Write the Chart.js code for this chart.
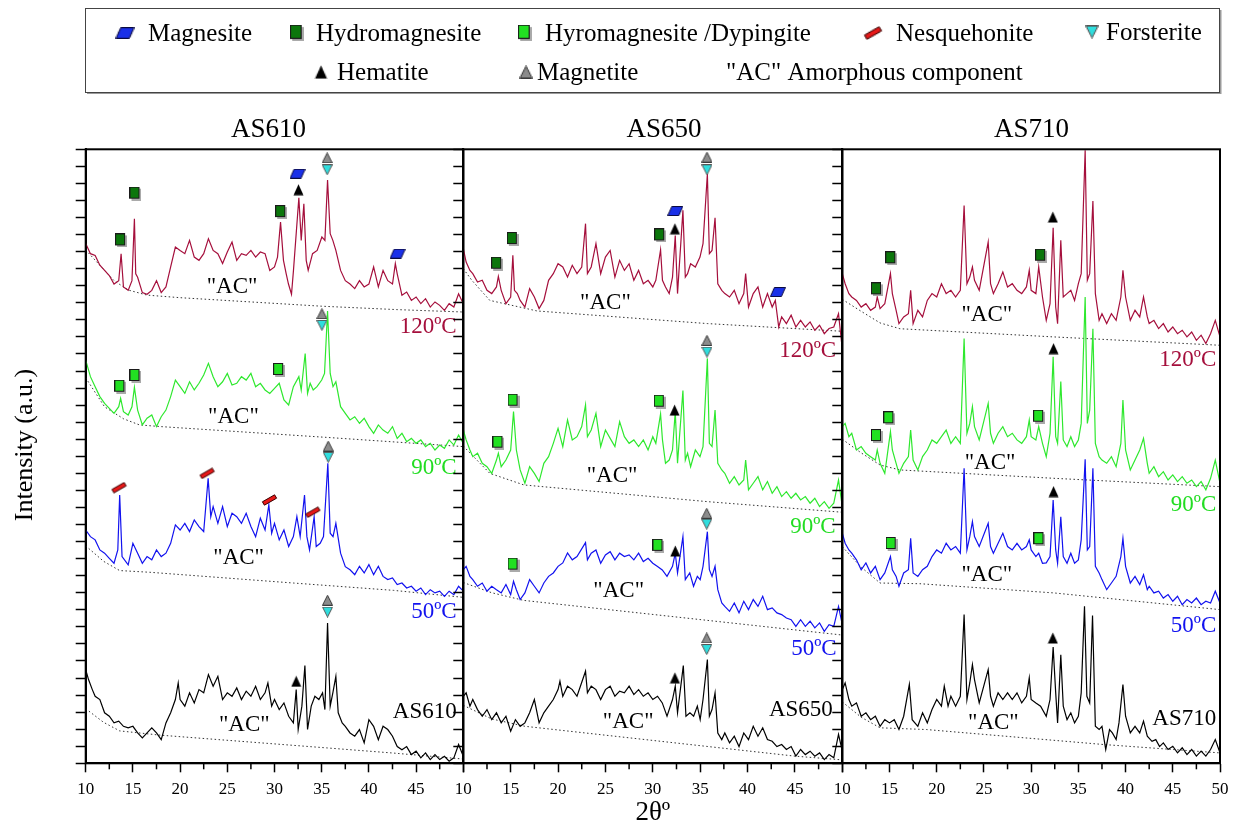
<!DOCTYPE html>
<html><head><meta charset="utf-8">
<script src="https://cdn.jsdelivr.net/npm/chart.js@4.4.1/dist/chart.umd.min.js"></script>
<style>
html,body{margin:0;padding:0;background:#fff;}
#wrap{position:relative;width:1233px;height:831px;overflow:hidden;}
#wrap canvas{position:absolute;left:0;top:0;}
</style></head><body>
<div id="wrap">
<canvas id="c0" width="1233" height="831"></canvas>
<canvas id="c1" width="1233" height="831"></canvas>
<canvas id="c2" width="1233" height="831"></canvas>
</div>
<script>
// ---------------- DATA (2θ, intensity a.u. incl. stacking offset) ----------------
const SAMPLES = ['AS610', 'AS650', 'AS710'];
const TEMPS = ['120ºC', '90ºC', '50ºC'];
const X_TICKS = [10, 15, 20, 25, 30, 35, 40, 45, 50];

const as610_120 = [[10,30.47],[10.5,29.88],[11,29.78],[11.5,29.2],[12,28.9],[12.5,28.6],[13,28.1],[13.5,28.3],[13.75,29.88],[14,27.93],[14.5,27.73],[14.9,28.3],[15.16,31.93],[15.3,28.7],[15.5,28.5],[16,27.6],[16.5,27.5],[17,27.73],[17.5,28.3],[18,27.6],[18.5,27.93],[19,29.1],[19.5,30.27],[20,30.07],[20.5,29.88],[21,30.66],[21.5,29.68],[22,29.49],[22.5,29.88],[23,30.76],[23.5,30.07],[24,29.88],[24.5,29.3],[25,29.98],[25.5,30.56],[26,29.49],[26.5,29.88],[27,29.78],[27.5,30.07],[28,29.68],[28.5,29.98],[29,29.88],[29.5,28.9],[30,29.1],[30.32,29.68],[30.64,31.73],[30.95,29.49],[31.24,28.7],[31.48,28.1],[31.8,27.5],[32.01,28.9],[32.58,33.16],[32.83,30.66],[33.11,32.8],[33.36,29.49],[33.57,28.9],[34.03,29.88],[34.52,30.07],[35.02,30.86],[35.34,30.66],[35.62,34.2],[35.9,31.05],[36.18,30.66],[36.5,30.07],[37,28.9],[37.5,28.3],[38,28.1],[38.5,27.83],[39,28.3],[39.5,27.93],[40,28.1],[40.5,29.1],[41,27.93],[41.5,28.9],[42,28.3],[42.5,28.1],[42.8,29.3],[43,28.7],[43.5,27.44],[44,27.63],[44.5,27.14],[45,27.34],[45.5,26.95],[46,27.24],[46.5,26.75],[47,27.05],[47.5,26.85],[48,26.56],[48.5,26.95],[49,26.75],[49.5,27.53],[50,26.95]];
const as610_90 = [[10,23.64],[10.5,22.67],[11,22.08],[11.5,21.5],[12,21.1],[12.5,20.81],[13,20.52],[13.5,20.91],[13.7,21.4],[14,20.62],[14.5,20.42],[14.9,20.9],[15.16,22.04],[15.5,20.71],[16,19.84],[16.5,20.23],[17,20.42],[17.5,19.74],[18,20.32],[18.5,20.71],[19,21.5],[19.5,22.47],[20,22.08],[20.5,21.69],[21,22.37],[21.5,21.89],[22,22.28],[22.5,22.77],[23,23.45],[23.5,22.67],[24,22.08],[24.5,22.37],[25,22.86],[25.5,22.18],[26,22.28],[26.5,22.67],[27,22.47],[27.5,22.86],[28,22.08],[28.5,22.28],[29,21.89],[29.5,21.69],[30,21.98],[30.5,22.28],[31,21.3],[31.5,21.01],[32,22.08],[32.58,22.67],[32.83,21.89],[33.25,24.03],[33.5,21.69],[33.78,22.28],[34.1,21.89],[34.5,22.08],[35,22.47],[35.3,22.86],[35.62,26.52],[35.9,22.86],[36.2,22.08],[36.5,22.37],[37,20.91],[37.5,20.52],[38,20.13],[38.5,20.32],[39,19.93],[39.5,20.23],[40,19.74],[40.5,19.35],[41,19.84],[41.5,19.54],[42,19.35],[42.5,19.74],[43,19.05],[43.5,19.35],[44,18.86],[44.5,19.05],[45,18.76],[45.5,18.96],[46,18.57],[46.5,18.76],[47,18.37],[47.5,18.66],[48,18.47],[48.5,18.96],[49,18.66],[49.5,19.25],[50,18.76]];
const as610_50 = [[10,13.68],[10.5,13.29],[11,13.1],[11.5,12.51],[12,12.32],[12.5,12.02],[13,11.73],[13.4,12.51],[13.6,15.73],[13.85,12.12],[14.5,11.63],[15,12.9],[15.5,12.32],[16,11.73],[16.5,12.12],[17,11.93],[17.5,12.51],[18,12.12],[18.5,12.32],[19,12.9],[19.5,13.98],[20,13.68],[20.5,14.07],[21,13.59],[21.5,14.27],[22,13.88],[22.5,13.59],[22.97,16.71],[23.25,14.46],[23.5,15.05],[24,14.07],[24.5,15.05],[25,13.88],[25.5,14.66],[26,14.46],[26.5,14.07],[27,14.66],[27.5,13.88],[28,13.29],[28.5,14.37],[29,13.68],[29.4,15.15],[29.7,13.49],[30,14.07],[30.5,13.1],[31,13.68],[31.5,12.71],[32,13.29],[32.37,14.46],[32.72,13.29],[33.18,15.73],[33.43,13.29],[33.71,12.51],[34.2,14.46],[34.42,12.71],[34.84,12.9],[35.19,13.29],[35.65,17.59],[35.9,13.49],[36.2,13.29],[36.5,14.07],[37,12.32],[37.5,11.53],[38,11.35],[38.5,11.06],[39,11.55],[39.5,11.16],[40,11.65],[40.5,11.06],[41,11.55],[41.5,10.96],[42,10.77],[42.5,10.87],[43,10.48],[43.5,10.57],[44,10.28],[44.5,10.38],[45,10.09],[45.5,10.28],[46,9.89],[46.5,10.18],[47,9.99],[47.5,10.09],[48,9.79],[48.5,10.09],[49,9.89],[49.5,10.38],[50,10.09]];
const as610_raw = [[10,5.49],[10.3,4.91],[10.7,4.32],[11,3.93],[11.5,3.74],[12,2.96],[12.5,2.76],[13,2.37],[13.5,2.47],[14,2.17],[14.5,2.08],[15,2.17],[15.5,1.78],[16,1.49],[16.5,1.78],[17,2.08],[17.5,1.78],[18,1.39],[18.5,2.37],[19,2.96],[19.5,3.74],[19.8,4.71],[20,3.74],[20.5,3.35],[21,4.13],[21.5,3.54],[22,4.32],[22.5,4.13],[23,5.2],[23.5,4.52],[24,5.1],[24.5,3.74],[25,4.13],[25.5,3.93],[26,4.42],[26.5,3.74],[27,4.23],[27.5,3.93],[28,4.52],[28.5,3.74],[29,4.13],[29.3,4.71],[29.7,3.35],[30,3.74],[30.5,3.15],[31,3.54],[31.5,2.76],[32,2.37],[32.3,4.32],[32.51,1.98],[32.9,3.35],[33.22,5.73],[33.5,1.98],[33.89,3.35],[34.28,3.93],[34.7,3.74],[35.09,4.13],[35.34,3.15],[35.62,8.23],[35.9,3.35],[36.18,4.13],[36.5,5.1],[36.75,2.96],[37.17,2.37],[37.5,2.17],[38,1.78],[38.5,1.59],[39,1.98],[39.5,1.2],[40,2.56],[40.5,2.17],[41,1.39],[41.5,2.17],[42,1.98],[42.5,1.59],[43,0.98],[43.5,0.79],[44,0.98],[44.5,0.51],[45,0.71],[45.5,0.32],[46,0.61],[46.5,0.22],[47,0.51],[47.5,0.22],[48,0.41],[48.5,0.12],[49,0.32],[49.5,1.1],[50,0.41]];

const as650_120 = [[10,30.17],[10.3,29.39],[10.7,28.9],[11,28.71],[11.5,28.22],[12,28.32],[12.5,27.73],[13,27.54],[13.5,27.93],[13.7,28.55],[14,27.73],[14.5,26.95],[15,27.34],[15.23,29.78],[15.4,27.73],[15.7,27.54],[16,27.14],[16.5,26.75],[17,27.83],[17.5,27.34],[18,26.66],[18.5,27.14],[19,28.32],[19.5,28.71],[20,29.29],[20.5,29.1],[21,28.51],[21.5,29.2],[22,28.71],[22.5,29.1],[22.9,31.64],[23.1,28.71],[23.5,29.1],[24,30.47],[24.5,28.71],[25,29.68],[25.5,30.07],[26,28.51],[26.5,29.49],[27,28.9],[27.5,29.29],[28,28.32],[28.5,28.9],[29,28.12],[29.5,28.32],[30,27.93],[30.32,28.32],[30.82,30.11],[31.02,28.32],[31.34,27.93],[31.73,27.54],[32.08,28.51],[32.37,30.95],[32.61,27.54],[33.18,32.42],[33.43,28.51],[33.67,28.71],[33.99,29.29],[34.49,29.1],[34.98,29.68],[35.3,30.47],[35.76,34.57],[35.97,29.88],[36.25,30.07],[36.57,31.99],[36.86,28.12],[37.28,27.73],[37.6,27.54],[38.1,27.34],[38.6,27.73],[39.1,26.95],[39.6,27.54],[39.8,28.71],[40.1,26.75],[40.6,27.54],[41.1,27.93],[41.6,26.75],[42.1,27.54],[42.6,26.75],[42.93,27.14],[43.29,25.58],[43.6,26.17],[44.1,25.78],[44.6,26.27],[45.1,25.58],[45.6,25.97],[46.1,25.58],[46.6,25.88],[47.1,25.39],[47.6,25.68],[48.1,25.19],[48.6,25.49],[49.1,25.58],[49.6,26.36],[49.9,24.8],[50,25.19]];
const as650_90 = [[10,19.54],[10.3,18.96],[10.7,18.37],[11,17.98],[11.5,18.18],[12,17.59],[12.5,17.39],[13,17.0],[13.5,17.78],[13.7,18.18],[14,17.39],[14.5,17.78],[15,18.37],[15.3,20.62],[15.6,18.37],[16,17.2],[16.5,16.42],[17,17.39],[17.5,17.0],[18,16.52],[18.5,17.59],[19,17.98],[19.5,18.76],[20,19.64],[20.5,18.57],[21,20.13],[21.5,18.96],[22,19.15],[22.5,19.74],[22.9,21.01],[23.1,19.15],[23.5,19.54],[24,20.52],[24.5,18.57],[25,19.54],[25.5,19.05],[26,18.57],[26.5,20.03],[27,19.15],[27.5,18.76],[28,18.96],[28.5,18.57],[29,18.96],[29.5,18.37],[30,19.15],[30.32,18.76],[30.82,20.48],[31.02,18.96],[31.34,17.59],[31.73,17.78],[32.08,18.37],[32.37,20.62],[32.61,17.59],[33.18,21.85],[33.43,17.78],[33.67,18.18],[33.99,17.39],[34.49,18.37],[34.98,17.98],[35.3,18.57],[35.76,23.74],[35.97,18.76],[36.25,18.57],[36.57,20.71],[36.86,17.59],[37.28,17.2],[37.6,17.0],[38.1,16.42],[38.6,16.81],[39.1,16.32],[39.6,16.61],[39.8,17.78],[40.1,16.03],[40.6,16.42],[41.1,16.81],[41.6,16.03],[42.1,16.52],[42.6,15.83],[43.1,16.22],[43.6,15.64],[44.1,15.93],[44.6,15.54],[45.1,15.83],[45.6,15.44],[46.1,15.64],[46.6,15.25],[47.1,15.54],[47.6,15.05],[48.1,15.34],[48.6,14.95],[49.1,15.25],[49.6,16.61],[50,15.05]];
const as650_50 = [[10,11.35],[10.3,11.55],[10.7,10.96],[11,10.77],[11.5,10.38],[12,10.57],[12.5,10.09],[13,10.38],[13.5,10.18],[14,9.99],[14.5,10.48],[15,9.89],[15.3,10.67],[15.6,10.18],[16,9.6],[16.5,9.99],[17,10.77],[17.5,10.38],[18,9.99],[18.5,10.57],[19,10.96],[19.5,11.16],[20,11.55],[20.5,11.75],[21,12.33],[21.5,11.93],[22,12.12],[22.9,12.94],[23.1,11.93],[23.5,12.32],[24,12.51],[24.5,11.73],[25,12.22],[25.5,12.41],[26,11.93],[26.5,12.32],[27,12.12],[27.5,12.22],[28,11.93],[28.5,12.32],[29,11.83],[29.5,12.02],[30,11.73],[30.5,11.54],[31,11.34],[31.5,10.96],[32.08,11.55],[32.37,12.32],[32.61,11.16],[33.18,13.29],[33.43,10.77],[33.9,11.16],[34.3,10.38],[34.7,10.96],[35,10.77],[35.3,11.55],[35.76,13.58],[35.97,11.35],[36.25,10.96],[36.57,11.55],[36.86,10.18],[37.28,9.4],[37.6,9.2],[38.1,8.91],[38.6,9.4],[39.1,8.82],[39.6,9.5],[40.1,9.01],[40.6,9.6],[41.1,9.2],[41.6,9.79],[42.1,9.01],[42.6,9.11],[43.1,8.82],[43.6,8.72],[44.1,8.52],[44.6,8.42],[45.1,8.03],[45.6,8.42],[46.1,8.03],[46.6,8.33],[47.1,7.94],[47.6,8.23],[48.1,7.74],[48.6,8.13],[49.1,8.03],[49.6,9.2],[50,8.13]];
const as650_raw = [[10,3.93],[10.3,4.13],[10.7,3.35],[11,3.74],[11.5,3.15],[12,2.76],[12.5,3.15],[13,2.56],[13.5,2.96],[14,2.37],[14.5,2.76],[15,1.88],[15.5,2.56],[16,2.17],[16.5,2.37],[17,2.96],[17.5,3.74],[18,2.37],[18.5,2.96],[19,3.35],[19.5,3.74],[20,4.32],[20.2,4.81],[20.5,3.93],[21,4.52],[21.5,4.32],[22,3.93],[22.9,5.4],[23.1,4.13],[23.5,4.52],[24,4.32],[24.5,3.74],[25,4.32],[25.5,4.52],[26,3.93],[26.5,4.23],[27,4.13],[27.5,4.52],[28,4.03],[28.5,4.32],[29,3.93],[29.5,4.13],[30,3.74],[30.5,3.93],[31,3.54],[31.5,2.76],[32.08,3.74],[32.37,4.52],[32.61,2.96],[33.22,5.73],[33.5,2.76],[33.92,2.96],[34.31,2.76],[34.7,3.35],[35,2.56],[35.3,3.74],[35.76,6.08],[35.97,2.76],[36.25,3.15],[36.57,4.13],[36.86,1.78],[37.28,1.39],[37.6,1.78],[38.1,1.2],[38.6,1.59],[39.1,0.98],[39.6,1.78],[40.1,1.39],[40.6,2.17],[41.1,1.59],[41.6,2.08],[42.1,1.39],[42.6,1.29],[43.1,0.98],[43.6,1.1],[44.1,0.81],[44.6,0.98],[45.1,0.42],[45.6,0.81],[46.1,0.51],[46.6,0.71],[47.1,0.42],[47.6,0.61],[48.1,0.22],[48.6,0.51],[49.1,0.32],[49.6,1.69],[50,0.71]];

const as710_120 = [[10,28.71],[10.3,28.12],[10.7,27.54],[11,27.34],[11.5,27.14],[12,26.75],[12.5,26.95],[13,26.56],[13.5,26.75],[13.7,27.34],[14,26.66],[14.5,26.95],[15.1,28.71],[15.3,27.54],[15.7,26.56],[16,25.78],[16.5,26.17],[17,26.36],[17.24,27.73],[17.5,25.78],[18,26.56],[18.5,26.17],[19,27.14],[19.5,27.54],[20,27.34],[20.5,28.12],[21,27.54],[21.5,27.73],[22,27.34],[22.5,27.73],[22.9,32.71],[23.2,28.12],[23.5,28.51],[23.78,29.1],[24,28.32],[24.5,27.73],[25.45,30.56],[25.7,28.12],[26,27.54],[26.5,28.12],[27,28.81],[27.5,27.93],[28,28.12],[28.5,27.73],[29,27.54],[29.5,27.93],[29.8,28.9],[30,27.73],[30.5,27.54],[30.8,29.1],[31.2,27.34],[31.6,25.97],[32,26.95],[32.33,31.4],[32.6,26.75],[32.8,25.78],[33.14,30.66],[33.4,27.34],[33.8,27.54],[34.2,27.73],[34.6,27.14],[35,28.12],[35.3,28.71],[35.72,35.95],[35.95,28.32],[36.2,28.71],[36.54,32.97],[36.8,27.54],[37.2,25.97],[37.5,26.36],[38,25.78],[38.5,26.36],[39,25.97],[39.5,27.34],[39.72,28.9],[40,27.34],[40.5,25.97],[41,26.56],[41.5,26.17],[41.9,27.34],[42.3,26.17],[42.5,25.78],[43,25.97],[43.5,25.49],[44,25.78],[44.5,25.29],[45,25.58],[45.5,25.19],[46,25.39],[46.5,25.0],[47,25.29],[47.5,24.8],[48,25.1],[48.5,24.61],[49,25.19],[49.5,25.97],[50,25.0]];
const as710_90 = [[10,19.74],[10.3,19.93],[10.7,19.15],[11,19.35],[11.5,18.37],[12,18.57],[12.5,18.18],[13,17.98],[13.5,17.78],[13.7,18.37],[14,17.59],[14.5,17.0],[15.1,19.45],[15.3,18.37],[15.7,17.59],[16,17.0],[16.5,17.59],[17,17.98],[17.24,19.54],[17.5,17.78],[18,17.2],[18.5,17.98],[19,18.37],[19.5,18.96],[20,18.76],[20.5,19.15],[21,19.54],[21.5,18.76],[22,19.15],[22.5,18.76],[22.9,24.9],[23.2,19.35],[23.5,19.93],[23.78,20.91],[24,19.74],[24.5,18.96],[25.45,21.1],[25.7,19.35],[26,18.76],[26.5,19.35],[27,19.74],[27.5,19.15],[28,19.35],[28.5,18.96],[29,18.76],[29.5,19.15],[29.8,20.13],[30,19.15],[30.5,18.96],[30.8,19.74],[31.2,18.76],[31.6,17.98],[32,19.35],[32.33,23.84],[32.6,19.15],[32.8,18.76],[33.14,22.38],[33.4,18.96],[33.8,18.57],[34.2,19.15],[34.6,18.57],[35,18.96],[35.3,19.93],[35.72,27.34],[35.95,19.93],[36.2,20.71],[36.54,25.48],[36.8,18.76],[37.2,17.98],[37.5,17.78],[38,17.59],[38.5,17.98],[39,17.39],[39.5,18.76],[39.72,21.3],[40,18.37],[40.5,17.2],[41,17.78],[41.5,18.37],[41.9,19.05],[42.3,17.59],[42.5,17.0],[43,17.39],[43.5,16.81],[44,17.1],[44.5,16.61],[45,16.91],[45.5,16.52],[46,16.81],[46.5,16.42],[47,16.61],[47.5,16.22],[48,16.52],[48.5,16.03],[49,16.71],[49.5,17.78],[50,16.42]];
const as710_50 = [[10,13.49],[10.3,12.9],[10.7,12.51],[11,12.32],[11.5,11.93],[12,11.35],[12.5,11.75],[13,11.16],[13.5,11.55],[14,10.77],[14.5,11.16],[15.1,12.12],[15.3,11.35],[15.7,10.96],[16,10.38],[16.5,11.16],[17,11.35],[17.24,13.19],[17.5,11.16],[18,10.96],[18.5,11.35],[19,11.55],[19.5,12.12],[20,12.51],[20.5,12.32],[21,12.9],[21.5,12.51],[22,12.71],[22.5,12.32],[22.9,17.3],[23.2,12.51],[23.5,13.29],[23.78,14.17],[24,13.29],[24.5,12.71],[25.45,14.07],[25.7,12.71],[26,12.32],[26.5,12.9],[27,13.49],[27.5,12.71],[28,12.51],[28.5,12.9],[29,12.51],[29.5,12.71],[29.8,13.1],[30,12.51],[30.5,12.12],[30.8,12.32],[31.2,11.73],[31.6,11.75],[32,12.12],[32.33,15.44],[32.6,12.51],[32.8,11.73],[33.14,14.46],[33.4,12.12],[33.8,11.73],[34.2,12.32],[34.6,11.73],[35,11.93],[35.3,13.1],[35.72,17.82],[35.95,12.51],[36.2,12.71],[36.54,17.3],[36.8,11.55],[37.2,11.16],[37.5,10.77],[38,10.18],[38.5,10.57],[39,10.96],[39.5,12.12],[39.72,13.19],[40,11.55],[40.5,10.57],[41,10.96],[41.5,10.48],[41.9,11.06],[42.3,10.18],[42.5,10.38],[43,9.99],[43.5,10.09],[44,9.69],[44.5,9.89],[45,9.5],[45.5,9.79],[46,9.3],[46.5,9.6],[47,9.4],[47.5,9.69],[48,9.3],[48.5,9.5],[49,9.4],[49.5,10.09],[50,9.4]];
const as710_raw = [[10,4.32],[10.3,4.71],[10.7,3.74],[11,3.35],[11.5,3.54],[12,2.76],[12.5,2.96],[13,2.56],[13.5,2.76],[14,2.17],[14.5,2.56],[15,2.37],[15.5,2.56],[16,1.98],[16.5,2.76],[17.1,4.62],[17.4,2.56],[18,2.17],[18.5,2.96],[19,2.37],[19.5,3.15],[20,3.74],[20.5,3.35],[20.8,4.52],[21.2,3.35],[21.5,3.93],[22,3.35],[22.5,3.93],[22.9,8.72],[23.2,3.74],[23.5,4.71],[23.78,5.79],[24,4.91],[24.5,3.54],[25.45,5.49],[25.7,3.93],[26,3.35],[26.5,4.13],[27,3.74],[27.5,4.13],[28,3.74],[28.5,4.13],[29,3.54],[29.5,3.93],[29.8,5.01],[30,3.74],[30.5,3.54],[31,3.35],[31.6,2.76],[32,3.74],[32.33,6.82],[32.6,4.13],[32.8,2.37],[33.14,6.37],[33.4,3.35],[33.8,2.56],[34.2,2.96],[34.6,2.37],[35,2.76],[35.3,4.13],[35.65,9.2],[35.9,3.93],[36.2,3.54],[36.5,8.66],[36.8,2.17],[37.2,1.98],[37.5,2.17],[37.9,0.81],[38.3,1.98],[38.6,1.78],[39,1.39],[39.3,2.37],[39.72,4.62],[40,2.76],[40.5,1.78],[41,2.17],[41.5,1.78],[41.9,2.47],[42.3,1.59],[42.8,1.29],[43.2,1.39],[43.6,0.98],[44,1.2],[44.5,0.81],[45,1.0],[45.5,0.61],[46,0.91],[46.5,0.51],[47,0.81],[47.5,0.42],[48,0.71],[48.5,0.42],[49,0.81],[49.5,1.39],[50,0.61]];

// amorphous-component baselines (dotted)
const base610_120 = [[10,30.1],[11.5,29.2],[13,28.3],[14.5,27.75],[16.5,27.45],[20,27.3],[35,26.8],[43,26.6],[50,26.46]];
const base610_90 = [[10,22.6],[12,20.9],[14,20.2],[15.7,19.84],[18,19.74],[35.5,19.11],[50,18.57]];
const base610_50 = [[10,12.75],[11.9,11.84],[13.6,11.3],[16.8,11.2],[32,10.57],[42.6,10.14],[50,9.73]];
const base610_raw = [[10,3.2],[11.9,2.4],[13.6,1.9],[17.9,1.65],[35.6,0.9],[42.6,0.6],[50,0.25]];
const base650_120 = [[10,29.0],[10.9,28.32],[12.8,27.14],[17.8,26.52],[35.8,25.78],[50,25.33]];
const base650_90 = [[10,18.6],[12.8,17.0],[16.4,16.32],[35.8,15.34],[50,14.72]];
const base650_50 = [[10,10.6],[13,10.0],[16.4,9.55],[50,7.52]];
const base650_raw = [[10,3.4],[13,2.6],[16.5,2.17],[45,0.42],[50,0.2]];
const base710_120 = [[10,27.2],[12,26.5],[14,25.82],[16.1,25.48],[32.4,25.0],[50,24.51]];
const base710_90 = [[10,19.0],[12,18.2],[14,17.49],[16.1,17.2],[32.4,16.71],[50,16.22]];
const base710_50 = [[10,12.7],[12,11.5],[14,10.57],[18.2,10.53],[32.4,9.99],[50,9.01]];
const base710_raw = [[10,3.6],[12,2.7],[14,2.08],[18.9,1.98],[37.7,1.1],[50,0.61]];

// phase markers [2θ, height]
const mk610_magnesite = [[32.44,34.57],[43.04,29.88]];
const mk610_hydro = [[13.75,30.66],[15.27,33.4],[30.71,32.32]];
const mk610_dyp = [[13.67,22.08],[15.27,22.71],[30.49,23.06]];
const mk610_nesq = [[13.53,16.16],[22.86,17.0],[29.47,15.44],[34.06,14.72]];
const mk610_forst = [[35.58,34.8],[35.02,25.68],[35.69,17.94],[35.62,8.87]];
const mk610_hema = [[32.54,33.63],[32.3,4.81]];
const mk610_magnet = [[35.58,35.5],[35.02,26.36],[35.69,18.6],[35.62,9.56]];

const mk650_magnesite = [[32.37,32.38],[43.2,27.63]];
const mk650_hydro = [[13.57,29.29],[15.23,30.74],[30.78,30.95]];
const mk650_dyp = [[13.71,18.8],[15.3,21.26],[30.74,21.2],[15.3,11.65],[30.6,12.75]];
const mk650_nesq = [];
const mk650_forst = [[35.72,34.8],[35.72,24.11],[35.69,14.02],[35.69,6.67]];
const mk650_hema = [[32.33,31.34],[32.3,20.71],[32.37,12.45],[32.33,5.01]];
const mk650_magnet = [[35.72,35.54],[35.72,24.8],[35.69,14.66],[35.69,7.35]];

const mk710_magnesite = [];
const mk710_hydro = [[13.67,27.79],[15.19,29.61],[31.06,29.76]];
const mk710_dyp = [[13.67,19.19],[14.98,20.23],[30.85,20.32],[15.23,12.86],[30.88,13.14]];
const mk710_nesq = [];
const mk710_forst = [];
const mk710_hema = [[32.3,32.03],[32.37,24.31],[32.37,15.93],[32.3,7.35]];
const mk710_magnet = [];

// "AC" label anchors and series label anchors (2θ, height)
const ac610 = [[25.5,27.93],[25.65,20.32],[26.2,12.02],[26.8,2.27]];
const ac650 = [[25.0,26.99],[25.7,16.85],[26.4,10.08],[27.4,2.41]];
const ac710 = [[25.3,26.27],[25.65,17.59],[25.3,11.06],[26.0,2.37]];
const tag610 = [[49.3,25.58],[49.3,17.3],[49.3,8.87],[49.3,3.0]];
const tag650 = [[49.35,24.18],[49.3,13.88],[49.4,6.71],[49.0,3.11]];
const tag710 = [[49.6,23.64],[49.6,15.15],[49.6,8.03],[49.6,2.6]];

// ---------------- STYLE / LAYOUT ----------------
const SERIF = '"Liberation Serif", "Times New Roman", serif';
const SERIES_COLORS = ['#a50f3c', '#2ee82e', '#1212ef', '#000000'];
const LABEL_COLORS = ['#a50f3c', '#22dd22', '#1212ef', '#000000'];
const PANEL_LEFT = [85.7, 463.3, 842.3];
const PANEL_RIGHT = [463.3, 842.3, 1220];
const AREA_TOP = 149.3, AREA_BOTTOM = 763.3;
const W = 1233, H = 831;

function mkImg(w, h, draw) { const c = document.createElement('canvas'); c.width = w; c.height = h; const g = c.getContext('2d'); draw(g); return c; }
function poly(g, pts, fill, stroke) { g.beginPath(); g.moveTo(pts[0][0], pts[0][1]); for (let i = 1; i < pts.length; i++) g.lineTo(pts[i][0], pts[i][1]); g.closePath(); g.fillStyle = fill; g.fill(); if (stroke) { g.strokeStyle = stroke; g.lineWidth = 1; g.stroke(); } }
const IMG = {
  magnesite: mkImg(16, 10, g => poly(g, [[4.5,0.5],[15.5,0.5],[11.5,9.5],[0.5,9.5]], '#1a30e8', '#0a0a40')),
  hydro: mkImg(12, 14, g => { g.fillStyle = '#aaa'; g.fillRect(2, 2, 10, 12); g.fillStyle = '#0b760b'; g.fillRect(0.5, 0.5, 9, 11); g.strokeStyle = '#1a1a1a'; g.lineWidth = 1; g.strokeRect(0.5, 0.5, 9, 11); }),
  dyp: mkImg(12, 14, g => { g.fillStyle = '#aaa'; g.fillRect(2, 2, 10, 12); g.fillStyle = '#22e022'; g.fillRect(0.5, 0.5, 9, 11); g.strokeStyle = '#1a1a1a'; g.lineWidth = 1; g.strokeRect(0.5, 0.5, 9, 11); }),
  nesq: mkImg(17, 12, g => poly(g, [[1.4,7.8],[13.6,0.8],[15.6,4.2],[3.4,11.2]], '#e81818', '#3a0000')),
  forst: mkImg(11, 11, g => poly(g, [[0.5,0.5],[10.5,0.5],[5.5,10.5]], '#2fdede', '#555')),
  hema: mkImg(11, 12, g => poly(g, [[5.5,0.5],[10.5,11.5],[0.5,11.5]], '#000', null)),
  magnet: mkImg(11, 11, g => poly(g, [[5.5,0.5],[10.5,10.5],[0.5,10.5]], '#8c8c8c', '#3a3a3a'))
};

const toXY = a => a.map(([x, y]) => ({x, y}));
const PANELS = [
  {traces: [as610_120, as610_90, as610_50, as610_raw], bases: [base610_120, base610_90, base610_50, base610_raw],
   marks: {magnesite: mk610_magnesite, hydro: mk610_hydro, dyp: mk610_dyp, nesq: mk610_nesq, forst: mk610_forst, hema: mk610_hema, magnet: mk610_magnet},
   ac: ac610, tags: tag610, titleX: 268.5},
  {traces: [as650_120, as650_90, as650_50, as650_raw], bases: [base650_120, base650_90, base650_50, base650_raw],
   marks: {magnesite: mk650_magnesite, hydro: mk650_hydro, dyp: mk650_dyp, nesq: mk650_nesq, forst: mk650_forst, hema: mk650_hema, magnet: mk650_magnet},
   ac: ac650, tags: tag650, titleX: 664},
  {traces: [as710_120, as710_90, as710_50, as710_raw], bases: [base710_120, base710_90, base710_50, base710_raw],
   marks: {magnesite: mk710_magnesite, hydro: mk710_hydro, dyp: mk710_dyp, nesq: mk710_nesq, forst: mk710_forst, hema: mk710_hema, magnet: mk710_magnet},
   ac: ac710, tags: tag710, titleX: 1031.5}
];

const framePlugin = {
  id: 'frame',
  afterDraw(chart, args, opts) {
    const {ctx, chartArea: a, scales: {x}} = chart;
    ctx.save();
    ctx.strokeStyle = '#000'; ctx.lineWidth = 2;
    ctx.strokeRect(a.left, a.top, a.right - a.left, a.bottom - a.top);
    ctx.lineWidth = 1.5;
    for (let i = 0; i < X_TICKS.length - 1; i++) {
      const v = (X_TICKS[i] + X_TICKS[i + 1]) / 2;
      const px = x.getPixelForValue(v);
      ctx.beginPath(); ctx.moveTo(px, a.bottom); ctx.lineTo(px, a.bottom + 6); ctx.stroke();
    }
    const P = PANELS[opts.panel];
    ctx.fillStyle = '#000'; ctx.font = '27px ' + SERIF; ctx.textAlign = 'center'; ctx.textBaseline = 'middle';
    ctx.fillText(SAMPLES[opts.panel], P.titleX, 130);
    ctx.restore();
  }
};

const textPlugin = {
  id: 'texts',
  afterDatasetsDraw(chart, args, opts) {
    const {ctx, scales: {x, y}} = chart;
    const P = PANELS[opts.panel];
    ctx.save();
    ctx.font = '23px ' + SERIF; ctx.textBaseline = 'middle';
    P.ac.forEach(([vx, vy]) => {
      ctx.fillStyle = '#000'; ctx.textAlign = 'center';
      ctx.fillText('"AC"', x.getPixelForValue(vx), y.getPixelForValue(vy));
    });
    P.tags.forEach(([vx, vy], i) => {
      ctx.fillStyle = LABEL_COLORS[i]; ctx.textAlign = 'right';
      ctx.fillText(i < 3 ? TEMPS[i] : SAMPLES[opts.panel], x.getPixelForValue(vx), y.getPixelForValue(vy));
    });
    ctx.restore();
  }
};

const LEGEND_ITEMS = [
  {img: 'magnesite', text: 'Magnesite', mx: 125, tx: 148, y: 33},
  {img: 'hydro', text: 'Hydromagnesite', mx: 297, tx: 316, y: 33},
  {img: 'dyp', text: 'Hyromagnesite /Dypingite', mx: 525, tx: 545, y: 33},
  {img: 'nesq', text: 'Nesquehonite', mx: 873, tx: 896, y: 33},
  {img: 'forst', text: 'Forsterite', mx: 1092, tx: 1106, y: 32},
  {img: 'hema', text: 'Hematite', mx: 321, tx: 337, y: 72},
  {img: 'magnet', text: 'Magnetite', mx: 526, tx: 537, y: 72},
  {img: null, text: '"AC" Amorphous component', mx: 0, tx: 726, y: 72}
];
const legendPlugin = {
  id: 'boxLegend',
  afterDraw(chart) {
    const ctx = chart.ctx;
    ctx.save();
    ctx.fillStyle = '#9a9a9a';
    ctx.fillRect(87, 92, 1134, 2); ctx.fillRect(1219.5, 10, 2, 84);
    ctx.strokeStyle = '#444'; ctx.lineWidth = 1;
    ctx.strokeRect(85.5, 8.5, 1134, 84);
    ctx.font = '25px ' + SERIF; ctx.fillStyle = '#000'; ctx.textAlign = 'left'; ctx.textBaseline = 'middle';
    LEGEND_ITEMS.forEach(it => {
      if (it.img) { const im = IMG[it.img]; const s = 1.2; ctx.drawImage(im, it.mx - im.width * s / 2, it.y - im.height * s / 2, im.width * s, im.height * s); }
      ctx.fillText(it.text, it.tx, it.y + 1);
    });
    ctx.translate(25, 445); ctx.rotate(-Math.PI / 2);
    ctx.font = '26px ' + SERIF; ctx.textAlign = 'center';
    ctx.fillText('Intensity (a.u.)', 0, 0);
    ctx.restore();
  }
};

function buildChart(p) {
  const P = PANELS[p];
  const YW = 10, XH = H - 2 - AREA_BOTTOM;
  const datasets = [];
  Object.keys(P.marks).forEach(k => {
    if (!P.marks[k].length) return;
    datasets.push({data: toXY(P.marks[k]), pointStyle: IMG[k], pointRadius: 5, showLine: false, order: 0});
  });
  P.traces.forEach((t, i) => datasets.push({data: toXY(t), borderColor: SERIES_COLORS[i], borderWidth: 1.2, pointRadius: 0, showLine: true, tension: 0, order: 1}));
  P.bases.forEach(b => datasets.push({data: toXY(b), borderColor: '#333', borderWidth: 1, borderDash: [1.5, 2.5], pointRadius: 0, showLine: true, tension: 0, order: 2}));
  return new Chart(document.getElementById('c' + p), {
    type: 'scatter',
    data: {datasets},
    options: {
      responsive: false, animation: false, devicePixelRatio: 1, events: [],
      layout: {padding: {left: PANEL_LEFT[p] - YW, right: W - PANEL_RIGHT[p], top: AREA_TOP, bottom: 2}},
      plugins: {legend: {display: false}, tooltip: {enabled: false}, frame: {panel: p}, texts: {panel: p}},
      scales: {
        x: {
          type: 'linear', position: 'bottom', min: X_TICKS[0], max: X_TICKS[X_TICKS.length - 1],
          afterBuildTicks: s => { s.ticks = X_TICKS.map(v => ({value: v})); },
          ticks: {autoSkip: false, maxRotation: 0, padding: 7, color: '#000', font: {family: SERIF, size: 17},
                  callback: v => (v === 50 && p < 2) ? '' : String(v)},
          grid: {drawOnChartArea: false, drawTicks: true, tickLength: 9, tickColor: '#000', tickWidth: 1.5},
          border: {display: true, color: '#000', width: 2},
          title: {display: p === 1, text: '2θº', color: '#000', font: {family: SERIF, size: 27}, padding: 0},
          afterFit: s => { s.height = XH; s.paddingLeft = 0; s.paddingRight = 0; }
        },
        y: {
          type: 'linear', position: 'left', min: 0, max: 36,
          ticks: {stepSize: 1, display: false},
          grid: {drawOnChartArea: false, drawTicks: true, tickLength: 10, tickColor: '#000', tickWidth: 1.5},
          border: {display: true, color: '#000', width: 2},
          afterFit: s => { s.width = YW; s.paddingTop = 0; s.paddingBottom = 0; }
        }
      }
    },
    plugins: p === 0 ? [framePlugin, textPlugin, legendPlugin] : [framePlugin, textPlugin]
  });
}
[0, 1, 2].forEach(buildChart);
</script>
</body></html>
